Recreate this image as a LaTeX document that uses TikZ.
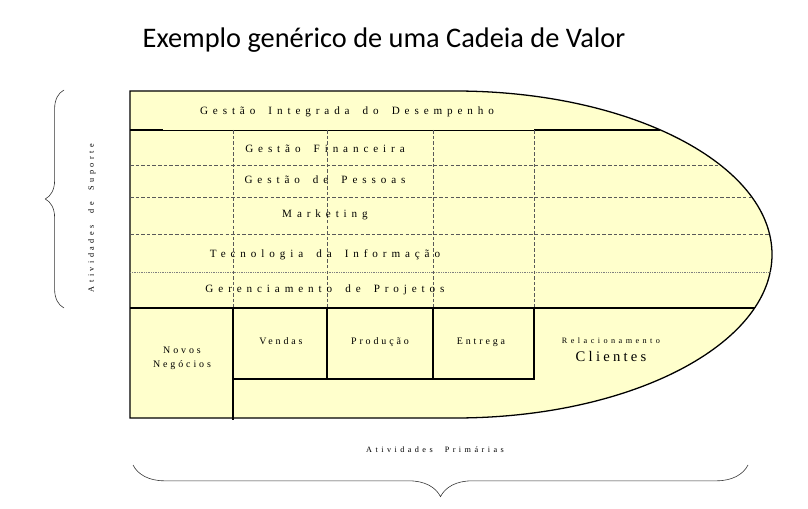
\documentclass[tikz,border=0pt]{standalone}
\usepackage{fontspec}
\setmainfont{Liberation Serif}
\newfontfamily\titlefont{Carlito}
\newfontfamily\rowfont[LetterSpace=44,WordSpace=1.7]{Liberation Serif}
\newfontfamily\boxfont[LetterSpace=29]{Liberation Serif}
\newfontfamily\sidefont[LetterSpace=42,WordSpace=2.2]{Liberation Serif}
\newfontfamily\clifont[LetterSpace=22]{Liberation Serif}
\usetikzlibrary{decorations.pathreplacing}
\definecolor{cvfill}{HTML}{FFFFCC}
\definecolor{dashgray}{gray}{0.35}

\begin{document}
\begin{tikzpicture}[x=0.03cm,y=-0.03cm,
  row/.style={font=\rowfont\fontsize{9.5}{11}\selectfont,anchor=base,inner sep=0pt},
  act/.style={font=\boxfont\fontsize{8.5}{10}\selectfont,anchor=base,inner sep=0pt},
  side/.style={font=\sidefont\fontsize{7}{8}\selectfont,inner sep=0pt},
  sep/.style={dashgray,line width=0.6pt,dash pattern=on 3pt off 1.8pt},
  bar/.style={line width=1.4pt},
  brc/.style={decorate,gray!40!black,line width=0.5pt}]
  \useasboundingbox (0,0) rectangle (808,509);
  \node[font=\titlefont\fontsize{24.2}{28}\selectfont,anchor=base,inner sep=0pt] (title) at (384,48) {Exemplo genérico de uma Cadeia de Valor};

  \draw[fill=cvfill,line width=1.1pt] (455,91) -- (130,91) -- (130,418) -- (455,418)
    arc[start angle=90,end angle=-90,x radius=317,y radius=163.5];

  \draw[bar] (130,130) -- (163,130);
  \draw[line width=0.7pt] (163,130) -- (534,130);
  \draw[bar] (534,130) -- (660,130);
  \draw[sep] (130,165) -- (720,165);
  \draw[sep] (130,197) -- (751,197);
  \draw[sep] (130,234) -- (769,234);
  \draw[gray,line width=0.5pt,densely dotted] (130,272) -- (770,272);
  \foreach \x in {233,327,433,534}
    \draw[sep] (\x,130) -- (\x,308);

  \draw[bar] (130,308) -- (755,308);
  \draw[bar] (233,308) -- (233,420);
  \draw[bar] (327,308) -- (327,380);
  \draw[bar] (433,308) -- (433,380);
  \draw[bar] (534,308) -- (534,380);
  \draw[bar] (233,379) -- (534,379);

  \node[row] (gid) at (347,115) {Gestão Integrada do Desempenho};
  \node[row] (gfin) at (325,153) {Gestão Financeira};
  \node[row] (gpes) at (325,184) {Gestão de Pessoas};
  \node[row] (mkt) at (325,218) {Marketing};
  \node[row] (ti) at (325,257) {Tecnologia da Informação};
  \node[row] (gproj) at (325,292) {Gerenciamento de Projetos};

  \node[act] (novos) at (182,353) {Novos};
  \node[act] (negoc) at (182,367) {Negócios};
  \node[act] (vend) at (281,344) {Vendas};
  \node[act] (prod) at (380,344) {Produção};
  \node[act] (entr) at (481,344) {Entrega};
  \node[side,anchor=base] (rel) at (611,343) {Relacionamento};
  \node[font=\clifont\fontsize{12.5}{14}\selectfont,anchor=base,inner sep=0pt] (cli) at (611,361) {Clientes};

  \draw[brc,decoration={brace,amplitude=16pt}] (64,308) -- (64,90);
  \node[side,rotate=90] (sup) at (92,218) {Atividades de Suporte};
  \node[side,anchor=base] (prim) at (435,452) {Atividades Primárias};
  \draw[brc,decoration={brace,amplitude=27pt}] (748,465) -- (133,465);
\end{tikzpicture}
\end{document}
